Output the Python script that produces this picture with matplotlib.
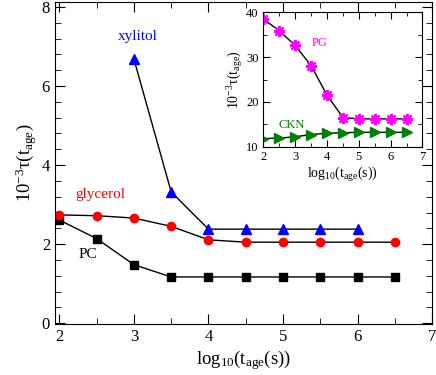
import matplotlib
matplotlib.use("Agg")
import matplotlib.pyplot as plt
from matplotlib.ticker import MultipleLocator

plt.rcParams['font.family'] = 'Liberation Serif'
plt.rcParams['mathtext.fontset'] = 'custom'
plt.rcParams['mathtext.rm'] = 'Liberation Serif'
plt.rcParams['mathtext.it'] = 'Liberation Serif:italic'

# main panel data
x_pc = [2, 2.5, 3, 3.5, 4, 4.5, 5, 5.5, 6, 6.5]
y_pc = [2.61, 2.14, 1.48, 1.17, 1.17, 1.17, 1.17, 1.17, 1.17, 1.17]
x_gly = [2, 2.5, 3, 3.5, 4, 4.5, 5, 5.5, 6, 6.5]
y_gly = [2.74, 2.72, 2.66, 2.45, 2.11, 2.05, 2.05, 2.05, 2.05, 2.05]
x_xyl = [3, 3.5, 4, 4.5, 5, 5.5, 6]
y_xyl = [6.68, 3.32, 2.38, 2.38, 2.38, 2.38, 2.38]

# inset data
x_pg = [2, 2.5, 3, 3.5, 4, 4.5, 5, 5.5, 6, 6.5]
y_pg = [38.5, 35.9, 32.6, 28.1, 21.5, 16.5, 16.2, 16.2, 16.2, 16.2]
x_ckn = [2, 2.5, 3, 3.5, 4, 4.5, 5, 5.5, 6, 6.5]
y_ckn = [11.8, 11.9, 12.2, 12.7, 13.0, 13.1, 13.2, 13.2, 13.2, 13.2]

xlab = r'log$_{10}$(t$_{\rm age}$(s))'
ylab = r'10$^{-3}$τ(t$_{\rm age}$)'

fig = plt.figure(figsize=(4.36, 3.75), dpi=100)
ax = fig.add_axes([0.126, 0.136, 0.865, 0.859])

ax.plot(x_pc, y_pc, color='black', lw=1, marker='s', ms=5.5, mfc='black', mec='black')
ax.plot(x_gly, y_gly, color='black', lw=1, marker='o', ms=6, mfc='red', mec='red')
ax.plot(x_xyl, y_xyl, color='black', lw=1, marker='^', ms=6.5, mfc='blue', mec='blue')

ax.text(3.05, 7.25, 'xylitol', color='blue', fontsize=11, ha='center', va='center')
ax.text(2.55, 3.25, 'glycerol', color='red', fontsize=11, ha='center', va='center')
ax.text(2.38, 1.75, 'PC', color='black', fontsize=11, ha='center', va='center')

ax.set_xlim(1.94, 7.0)
ax.set_ylim(-0.02, 8.13)
ax.xaxis.set_major_locator(MultipleLocator(1))
ax.xaxis.set_minor_locator(MultipleLocator(0.5))
ax.yaxis.set_major_locator(MultipleLocator(2))
ax.yaxis.set_minor_locator(MultipleLocator(0.4))
ax.tick_params(which='both', direction='in', top=True, right=True, labelsize=12)
ax.tick_params(which='major', length=7)
ax.tick_params(which='minor', length=4)
ax.set_xlabel(xlab, fontsize=13.5, labelpad=2)
ax.set_ylabel(ylab, fontsize=13.5, labelpad=2)

ins = fig.add_axes([0.604, 0.609, 0.365, 0.358])
ins.plot(x_pg, y_pg, color='black', lw=1, marker=(8, 2, 0), ms=8, mew=1.5,
         mec='magenta')
ins.plot(x_ckn, y_ckn, color='black', lw=1, marker='>', ms=6.5, mfc='green', mec='green')
ins.text(3.76, 33.1, 'PG', color='magenta', fontsize=9, ha='center', va='center')
ins.text(2.9, 14.8, 'CKN', color='green', fontsize=9, ha='center', va='center')

ins.set_xlim(2, 7)
ins.set_ylim(10, 40)
ins.xaxis.set_major_locator(MultipleLocator(1))
ins.xaxis.set_minor_locator(MultipleLocator(0.5))
ins.yaxis.set_major_locator(MultipleLocator(10))
ins.yaxis.set_minor_locator(MultipleLocator(5))
ins.tick_params(which='both', direction='in', top=True, right=True, labelsize=9)
ins.tick_params(which='major', length=5)
ins.tick_params(which='minor', length=3)
ins.set_xlabel(xlab, fontsize=10, labelpad=1)
ins.set_ylabel(ylab, fontsize=10, labelpad=1)

fig.savefig('out.png', dpi=100)
